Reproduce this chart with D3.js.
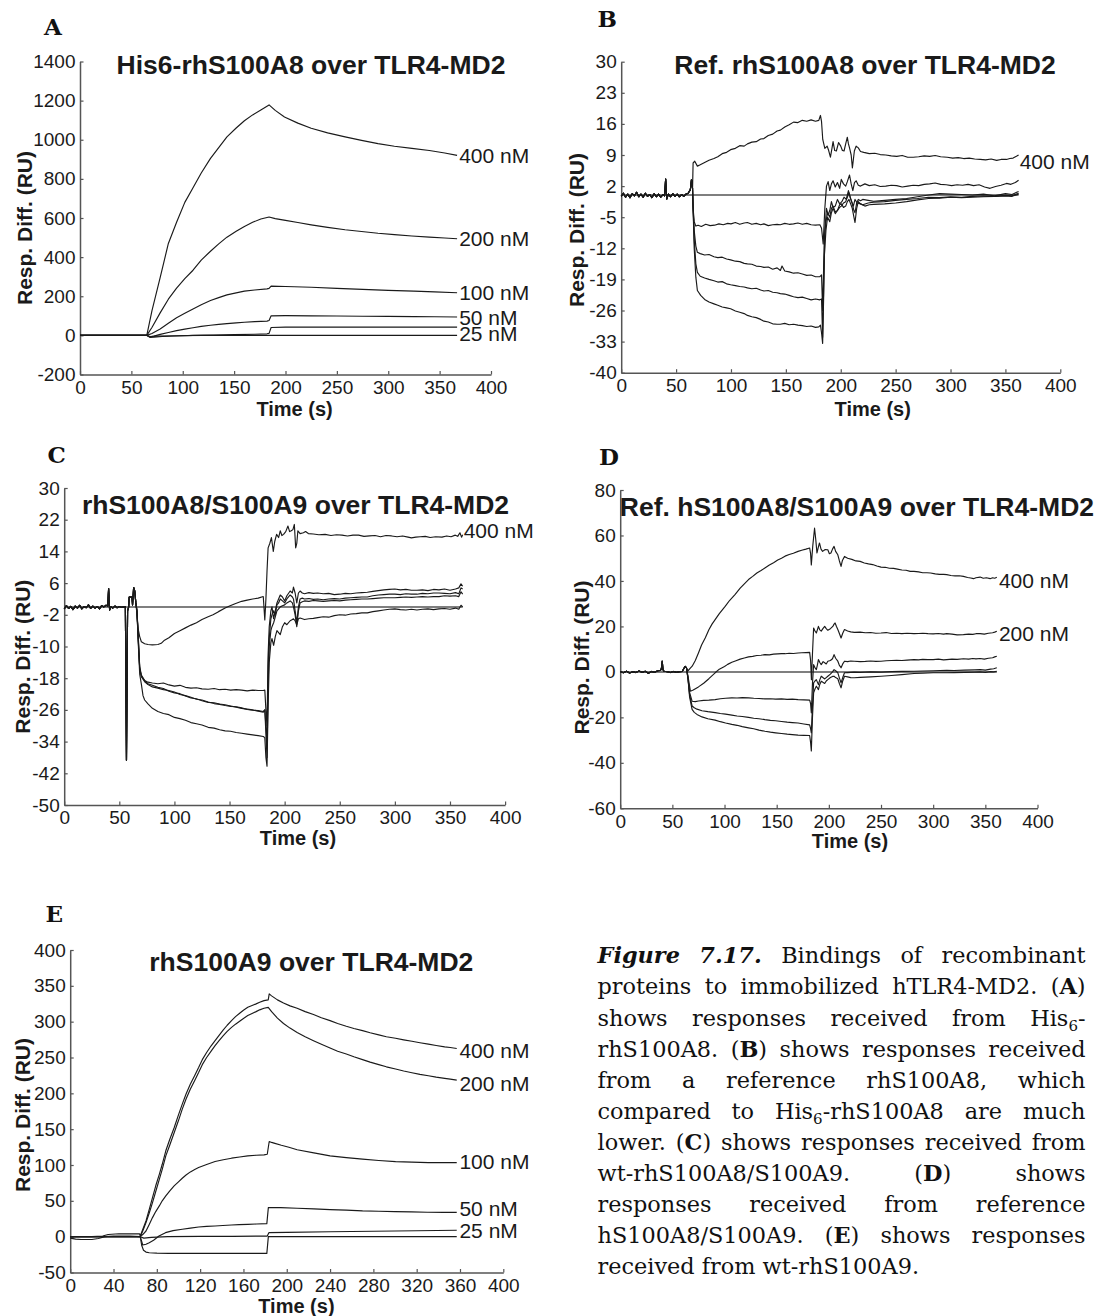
<!DOCTYPE html>
<html><head><meta charset="utf-8">
<script src="https://cdn.jsdelivr.net/npm/d3@7"></script>
<style>body{margin:0;background:#fff}svg{display:block}</style>
</head><body>
<script>
// ---------------- DATA ----------------
const xTicks50 = [0,50,100,150,200,250,300,350,400];
const xTicks40 = [0,40,80,120,160,200,240,280,320,360,400];
const yTicksA = [-200,0,200,400,600,800,1000,1200,1400];
const yTicksB = [30,23,16,9,2,-5,-12,-19,-26,-33,-40];
const yTicksC = [30,22,14,6,-2,-10,-18,-26,-34,-42,-50];
const yTicksD = [80,60,40,20,0,-20,-40,-60];
const yTicksE = [-50,0,50,100,150,200,250,300,350,400];

// Panel A (His6-rhS100A8)
const A_400 = [[0,0],[20,0],[40,0],[65,0],[70,125],[78,295],[86,470],[94,578],[102,680],[110,755],[118,830],[127,905],[135,960],[143,1015],[152,1060],[160,1097],[168,1127],[176,1152],[184,1178],[190,1150],[199,1116],[212,1085],[225,1059],[241,1035],[258,1015],[274,997],[290,980],[306,967],[323,956],[340,945],[355,932],[367,920]];
const A_200 = [[0,0],[65,0],[70,40],[78,115],[86,185],[94,242],[102,290],[110,333],[118,385],[127,430],[135,468],[143,502],[152,532],[160,557],[168,578],[176,595],[184,605],[190,597],[200,588],[212,577],[225,565],[241,552],[258,540],[274,531],[290,522],[306,515],[323,508],[340,502],[355,498],[367,494]];
const A_100 = [[0,0],[65,0],[70,10],[78,33],[86,62],[94,90],[102,113],[110,135],[118,157],[127,178],[135,193],[143,207],[152,217],[160,226],[170,232],[182,238],[184,240],[186,252],[200,250],[225,246],[250,240],[275,235],[300,230],[325,226],[345,222],[367,218]];
const A_50 = [[0,0],[65,0],[68,-8],[72,-4],[78,5],[86,15],[94,24],[102,32],[110,39],[118,46],[127,52],[135,56],[143,60],[152,64],[160,67],[170,70],[182,73],[184,76],[186,100],[200,101],[225,100],[250,99],[275,98],[300,97],[325,96],[345,95],[367,94]];
const A_25 = [[0,0],[65,0],[68,-10],[72,-9],[80,-6],[95,-3],[110,0],[130,2],[150,4],[170,6],[182,8],[184,10],[186,40],[200,42],[250,42],[300,42],[367,42]];
const A_0 = [[0,0],[65,0],[68,-6],[75,-4],[90,-2],[120,0],[367,0]];
const A_labels = ["400 nM","200 nM","100 nM","50 nM","25 nM"];
const A_labelVals = [920,494,218,93,8];

// Panel B (Ref. rhS100A8)
const B_base = [[0,-0.3],[2,0.4],[4,-0.5],[6,0.2],[8,-0.6],[10,0.3],[12,-0.2],[14,0.6],[16,-0.4],[18,0.2],[20,-0.5],[22,0.4],[24,-0.3],[26,0.1],[28,-0.6],[30,0.3],[32,-0.4],[34,0.2],[36,-0.5],[38,0.1],[39.5,-0.2],[40.5,3.6],[41.5,-0.9],[43,0.2],[45,-0.4],[47,0.3],[49,-0.3],[51,0.2],[53,-0.4],[55,0.1],[57,-0.3],[59,0.2],[61,0.4],[63,1.2],[64,3.4],[65,1.5]];
const B_400 = [[65.5,7.2],[67,7.6],[69.4,6.5],[72,6.8],[76,7.3],[80,7.8],[84.5,8.2],[88,8.6],[92,9.3],[96,9.6],[99.7,10.2],[104,10.5],[108,11.1],[112,11.0],[115,11.5],[119,11.9],[123,12.0],[127,12.6],[130,12.7],[134,13.4],[138,13.7],[142,14.4],[145,14.6],[149,15.3],[153,15.8],[157,16.4],[161,16.3],[165,16.8],[169,16.6],[173,16.9],[177,16.6],[180,16.8],[181.5,17.9],[182.5,16.5],[183.6,12.5],[185.5,10.5],[187.6,11],[189,10],[190.6,8.5],[192,10.5],[193,12],[194.5,10],[196,9.9],[198,11.8],[200,11],[201.5,10],[203,9.9],[204.5,11.5],[206,13],[207,11.5],[208,10.6],[209.5,9],[210.6,6.1],[211.5,8],[212.4,9.9],[214,11],[216,10.6],[218,9.8],[221,9.6],[226,9.3],[231,9.4],[236,9.1],[241,9.0],[246,8.8],[251,8.7],[256,8.9],[261,8.5],[266,8.5],[271,8.6],[276,8.8],[281,8.7],[286,8.9],[291,8.6],[297,8.5],[302,8.3],[307,8.4],[312,8.2],[317,8.3],[322,8.1],[327,8.0],[332,7.9],[337,8.1],[342,7.8],[346,8.0],[351,8.0],[354,8.2],[357,8.3],[360,8.7],[362,9.0]];
const B_n1 = [[65.5,-3],[66.5,-6],[68,-7],[70,-6.8],[73,-7.1],[77,-6.6],[81,-6.9],[85,-6.8],[89,-6.5],[93,-6.7],[97,-6.4],[100,-6.5],[104,-6.2],[108,-6.6],[112,-6.3],[115,-6.2],[119,-6.6],[123,-6.4],[127,-6.7],[130,-6.5],[134,-6.9],[138,-6.7],[142,-6.6],[145,-6.7],[149,-6.4],[153,-6.6],[157,-6.5],[161,-6.3],[165,-6.6],[169,-6.4],[173,-6.7],[177,-6.8],[181,-6.7],[182.5,-7.5],[184,-11],[185.5,-3],[187,2],[188.5,3],[190,1],[191.5,2.5],[193,3.2],[195,1.8],[197,2.8],[199,1.5],[200.5,3.5],[202.5,2.5],[204.5,2],[206,3],[208,4.5],[209.5,2.5],[211,1],[212.5,2.8],[214,3.2],[216,2.2],[218,2],[222,2.5],[226,2.1],[231,2.3],[236,1.9],[241,2.0],[246,2.2],[251,2.1],[256,1.8],[261,2.0],[266,2.2],[271,2.1],[276,2.4],[281,2.5],[286,2.7],[291,2.4],[296,2.3],[301,2.1],[306,2.3],[311,2.2],[316,2.4],[321,2.1],[326,2.3],[331,1.8],[336,1.5],[341,1.9],[346,2.2],[351,2.6],[355,2.4],[359,2.8],[362,3.3]];
const B_n2 = [[65.5,-3],[66.5,-8],[68,-11.5],[69.4,-12.9],[72,-13.2],[76,-13.5],[80,-13.4],[84.5,-13.9],[88,-14.1],[92,-14.0],[96,-14.4],[99.7,-14.6],[104,-14.9],[108,-15.0],[112,-15.4],[115,-15.5],[119,-15.6],[123,-16.0],[127,-16.1],[130,-16.3],[134,-16.2],[138,-16.7],[142,-16.4],[145,-17.0],[146.5,-16.0],[149,-17.1],[153,-17.3],[157,-17.6],[161,-17.5],[165,-17.8],[169,-18.1],[173,-18.0],[177,-18.4],[181,-18.4],[182.5,-18],[183.5,-26],[185,-10],[186.5,-6],[188,-4],[190,-5],[191.5,-3],[193,-2.5],[195,-3.8],[197,-3.5],[199,-2.2],[200.5,-2],[202.5,-2.8],[204.5,-2.5],[206,-1.5],[207.5,-1],[209,-2],[210.5,-3],[212,-5],[213,-6.2],[214.5,-3],[216,-1.5],[218,-2],[220,-2.2],[225,-1.8],[230,-1.6],[240,-1.5],[250,-1.2],[260,-1.0],[270,-0.8],[280,-0.5],[290,-0.6],[300,-0.4],[310,-0.5],[320,-0.3],[330,-0.2],[340,-0.3],[350,-0.1],[356,-0.2],[362,0.4]];
const B_n3 = [[65.5,-3],[66.5,-10],[68,-15.5],[69.4,-17.4],[72,-18.3],[76,-18.7],[80,-19.0],[84.5,-19.3],[88,-19.6],[92,-19.5],[96,-20.0],[99.7,-20.2],[104,-20.4],[108,-20.6],[112,-20.7],[115,-20.9],[119,-21.1],[123,-21.0],[127,-21.4],[130,-21.6],[134,-21.5],[138,-21.9],[142,-22.0],[145,-22.2],[149,-22.3],[153,-22.6],[157,-22.9],[161,-23.1],[165,-23.0],[169,-23.3],[173,-23.6],[177,-23.4],[181,-23.6],[182.5,-23.4],[183.5,-32],[185,-14],[186.5,-8],[188,-5],[190,-6],[191.5,-4],[193,-3],[195,-4.2],[197,-3.5],[199,-2.8],[200.5,-2.5],[202.5,-1.8],[204.5,-1.5],[206,-0.5],[207.5,0.5],[209,-0.8],[210.5,-2],[212,-3.5],[213,-4],[214.5,-1.8],[216,-1],[218,-1.3],[220,-1],[225,-1.2],[230,-1.4],[240,-1.2],[250,-1],[260,-0.8],[270,-0.4],[280,0],[290,0.3],[300,0.2],[310,0.1],[320,0],[330,0.2],[340,-0.2],[350,0.3],[356,0.1],[362,0.8]];
const B_n4 = [[65.5,-3],[66.5,-12],[68,-18.5],[69.4,-21.5],[72.4,-22.6],[76,-23.5],[80,-24.1],[84.5,-24.5],[88,-24.8],[92,-25.2],[96,-25.4],[99.7,-25.6],[104,-26.1],[108,-26.4],[112,-26.7],[115,-27.1],[119,-27.4],[123,-27.6],[127,-28.0],[130,-28.4],[134,-28.6],[138,-29.0],[142,-29.1],[145,-29.1],[149,-28.9],[153,-29.2],[157,-29.1],[161,-29.3],[165,-29.4],[169,-29.6],[173,-29.5],[177,-29.8],[180,-29.7],[181.5,-29.3],[182.5,-31],[183.5,-33.4],[184.5,-22],[185.5,-8],[187,-3],[188.5,-4.5],[190,-3.5],[191.5,-1.5],[193,-2.8],[195,-2.5],[197,-1],[199,-2],[201,-1.5],[203,-0.5],[205,-1],[207,1],[208.5,-0.5],[210,-1.5],[211.5,-2.5],[213,-1],[215,-1.8],[218,-2],[222,-2.5],[226,-2.2],[230,-2.1],[240,-2],[250,-1.8],[260,-1.5],[270,-1.1],[280,-0.8],[290,-0.7],[300,-0.5],[310,-0.6],[320,-0.5],[330,-0.4],[340,-0.3],[350,-0.2],[356,-0.3],[362,0.2]];
const B_labels = ["400 nM"];
const B_labelVals = [7.5];

// Panel C (rhS100A8/S100A9)
const C_base = [[0,-0.5],[2,0.3],[4,-0.4],[6,0.1],[8,-0.7],[10,0.2],[12,-0.3],[14,0.4],[16,-0.5],[18,0.1],[20,-0.2],[22,0.5],[24,-0.4],[26,0.2],[28,-0.3],[30,0.1],[32,-0.5],[34,0.3],[36,0.0],[38,0.4],[39.5,0.2],[40.3,4.6],[41.2,-0.8],[42.5,0.1],[44,-0.3],[46,0.2],[48,-0.2],[50,0.1],[52,-0.1],[54,0.0],[55.5,0.0],[56.5,-38.7],[57.5,-1],[58.5,0],[59,2.5],[61.5,2.5],[62,0.5],[63,4.9],[64,4],[65,1]];
const C_400 = [[66,-2],[67,-5.4],[68.5,-7.5],[70,-8.8],[73,-9.3],[76,-9.5],[80,-9.6],[85,-9.5],[88,-9.2],[91,-8.4],[95,-7.8],[100,-6.7],[105,-6.0],[110,-5.3],[115,-4.6],[120,-4.0],[125,-3.2],[130.6,-2.5],[135,-2.0],[140,-1.2],[146,-0.3],[150,0.2],[155,0.8],[161,1.4],[166,1.7],[171,2.0],[176,2.2],[180.6,2.6],[182,-3.3],[183,2],[184,9],[185,14.9],[186.5,16],[188,17.5],[189.7,14],[191,16.5],[192.7,18.3],[194.5,17.5],[196,19.2],[197.5,18],[199,18.3],[201,19],[203,20.4],[204.5,19],[206,19.2],[207.5,19.5],[208.8,20.8],[210,14.9],[211,16],[212,19.2],[214,18.5],[217,18.7],[219,19],[221.5,18.5],[226,18.4],[231,18.2],[236.7,18.3],[242,18.0],[247,18.2],[252,18.1],[257,17.9],[262,18.1],[267,18.1],[272,17.8],[277,17.9],[282,18.0],[287,17.7],[292,18.0],[297,17.9],[302,17.7],[307,17.9],[312,17.6],[315,17.4],[319,17.6],[323,17.7],[327.6,17.8],[332,17.5],[337,17.7],[342.7,17.6],[347,17.9],[351,17.7],[354.8,18.1],[357,17.8],[359,18.7],[360.5,17.6],[361.5,18.2]];
const C_a = [[66,-1],[67,-6],[68.5,-15.6],[70,-17.5],[73,-18.6],[76,-19.0],[80,-19.2],[85,-19.4],[90,-19.2],[95,-19.7],[100,-20.0],[105,-19.8],[110,-20.3],[115,-20.5],[120,-20.4],[125,-20.7],[130.6,-20.8],[136,-20.6],[141,-20.9],[146,-20.8],[151,-21.0],[156,-20.9],[161,-21.0],[166,-21.2],[171,-21.0],[176,-21.1],[180.6,-21.1],[182,-21],[183,-26],[184,-30],[185,-12],[186,-5],[187.5,-1],[188.5,0],[190,-3],[191.5,-1],[193,1],[194.5,2],[196,3],[198,2.5],[200,1.5],[202,2.8],[205,4],[207,3.5],[208,5],[209.5,3.5],[211,1],[212.5,3.5],[214,4],[216,3.5],[218,3.3],[222,3.6],[226,3.4],[230,3.5],[235,3.3],[240,3.4],[245,3.1],[250,3.2],[255,3.4],[260,3.3],[265,3.5],[270,3.6],[275,3.7],[280,3.9],[285,4.1],[290,4.3],[295,4.4],[300,4.5],[305,4.3],[310,4.4],[315,4.2],[320,4.2],[325,4.3],[330,4.1],[335,4.4],[340,4.3],[345,4.5],[350,4.2],[355,4.5],[358,4.8],[360,5.8],[361.5,5.2]];
const C_b = [[66,-1],[67,-7],[68.5,-15],[70,-17.2],[73,-18.6],[76,-19.4],[80,-19.8],[85,-20.3],[90,-20.6],[95,-21.3],[100,-21.7],[105,-21.9],[110,-22.5],[115,-23.0],[120,-23.2],[125,-23.7],[130.6,-24.1],[136,-24.2],[141,-24.5],[146,-24.7],[151,-25.0],[156,-25.3],[161,-25.6],[166,-25.8],[171,-26.0],[176,-26.3],[180.6,-26.6],[182,-26],[183,-30],[184,-35],[185,-15],[186,-8],[187.5,-3],[188.5,-2],[190,-1],[191.5,-2],[193,0.5],[194.5,1],[196,2],[198,1.5],[200,1],[202,2],[205,3],[207,2.5],[208,2],[209.5,-1],[211,-4],[212.5,0],[214,2],[216,2.2],[218,2],[222,2.1],[226,1.9],[230,2],[235,1.8],[240,2],[245,2.1],[250,2],[255,2.2],[260,2.3],[265,2.4],[270,2.5],[275,2.5],[280,2.8],[285,3.0],[290,3.1],[295,3.2],[300,3.2],[305,3.1],[310,3.3],[315,3.2],[320,3.2],[325,3.4],[330,3.3],[335,3.5],[340,3.5],[345,3.4],[350,3.3],[355,3.6],[358,3.3],[360,4.8],[361.5,4.5]];
const C_c = [[66,-1],[67,-7.5],[68.5,-15.5],[70,-17.6],[73,-18.9],[76,-19.6],[80,-20.2],[85,-20.5],[90,-20.9],[95,-21.1],[100,-21.5],[105,-22.1],[110,-22.4],[115,-22.8],[120,-23.3],[125,-23.5],[130.6,-24.0],[136,-24.4],[141,-24.6],[146,-24.9],[151,-25.1],[156,-25.2],[161,-25.5],[166,-25.9],[171,-26.1],[176,-26.2],[180.6,-26.4],[182,-26],[183,-32],[184,-38],[185,-20],[186,-10],[187.5,-6],[188.5,-5],[190,-4],[191.5,-2.5],[193,-1],[194.5,-0.5],[196,0],[198,0.3],[200,0.5],[202,1],[205,1.5],[207,1],[208,0],[209.5,-2],[211,-5],[212.5,-1],[214,1],[216,1.3],[218,1.5],[222,1.4],[226,1.6],[230,1.5],[235,1.4],[240,1.5],[245,1.6],[250,1.5],[255,1.7],[260,1.8],[265,1.9],[270,2.0],[275,2.0],[280,2.1],[285,2.2],[290,2.3],[295,2.3],[300,2.3],[305,2.4],[310,2.5],[315,2.4],[320,2.5],[325,2.6],[330,2.5],[335,2.6],[340,2.6],[345,2.8],[350,2.7],[355,2.8],[358,2.6],[360,3.8],[361.5,3.2]];
const C_d = [[66,-1],[67,-8],[68.5,-17],[70,-19.5],[71.5,-22.4],[73,-23.5],[76,-24.5],[80,-25.6],[85,-26.4],[90,-26.9],[95,-27.2],[100,-27.9],[105,-28.2],[110,-28.6],[115,-29.2],[120,-29.5],[125,-29.8],[130.6,-30.4],[136,-30.6],[141,-31.0],[146,-31.3],[151,-31.4],[156,-31.7],[161,-31.9],[166,-32.1],[171,-32.3],[176,-32.5],[180.6,-32.7],[182,-33],[183,-38],[184,-40.2],[185,-25],[186,-14],[187.5,-9],[188.5,-8],[190,-9.7],[191.5,-7.5],[193,-6],[194.5,-6.5],[196,-7],[198,-5],[200,-4],[202,-4.5],[205,-3.5],[207,-3.2],[208,-3],[209.5,-3.5],[211,-4.5],[212.5,-3],[214,-2.8],[216,-3],[218,-3.2],[222,-3],[226,-2.9],[230,-2.7],[235,-2.5],[240,-2.6],[245,-2.2],[250,-2.0],[255,-2.1],[260,-1.8],[265,-1.7],[270,-1.5],[275,-1.5],[280,-1.2],[285,-1.0],[290,-0.8],[295,-0.6],[300,-0.5],[305,-0.7],[310,-0.8],[315,-0.6],[320,-0.8],[325,-0.6],[330,-0.5],[335,-0.7],[340,-0.5],[345,-0.4],[350,-0.6],[355,-0.3],[358,-0.6],[360,0.4],[361.5,0]];
const C_labels = ["400 nM"];
const C_labelVals = [19.4];

// Panel D (Ref. hS100A8/S100A9)
const D_base = [[0,0.2],[3,-0.4],[6,0.3],[9,-0.5],[12,0.1],[15,-0.3],[18,0.4],[21,-0.2],[24,0.3],[27,-0.6],[30,0.2],[33,-0.2],[36,0.5],[38.5,0.6],[39.5,1.5],[40.3,4.7],[41,1.0],[42,0.3],[45,0.1],[48,-0.3],[51,0.2],[54,-0.2],[57,0.1],[59.5,0.2],[61,1.5],[62.3,2.4],[63.5,1.8]];
const D_400 = [[65,0.5],[67,1.5],[69,2.5],[72,5],[75,8.3],[78,11.8],[81.6,15],[85,18.5],[88,21],[91,23],[95,25.6],[100.6,28.8],[105,31.5],[110,34],[115,36.8],[119,38.7],[123,40.6],[127,42],[131,43.5],[135,44.6],[138.7,45.7],[143,47],[147,48],[151,49.2],[154.6,50],[158,50.9],[162,51.6],[166,52.2],[170.5,53],[174,53.5],[178,54],[181.6,54.5],[182.5,52],[183.2,47],[184.5,55],[186.3,63.2],[187.5,58],[188.6,52.3],[190,55],[191,56.7],[192.5,54],[194,53],[196.5,53.8],[199,53.7],[200.5,52],[202,52.3],[203.5,54],[205,55.2],[206.5,53],[208.6,51.5],[210,49],[211.7,46.4],[213,49],[215,50.8],[218,50],[222,49.5],[226,48.8],[230,48.6],[234,47.9],[238,47.5],[242,47.2],[246,46.6],[250,46.1],[254,46.0],[258,45.6],[262,45.5],[265.7,45.2],[270,44.8],[274,44.7],[278,44.2],[281.6,44.2],[286,44.0],[290,43.6],[294,43.6],[297.5,43.5],[302,43.1],[306,42.9],[310,42.9],[313,42.8],[317,42.4],[321,42.2],[325,42.3],[329,42],[333,41.5],[336,41.3],[338.7,41],[341,41.4],[345,41.7],[348,41.2],[351,41.4],[354.6,41],[357,41.4],[359,41.2],[361,41.6]];
const D_200 = [[65,-2],[67.3,-8.5],[70,-8],[75,-6.6],[80,-5],[85,-3],[91,-0.4],[95,1.2],[100,2.4],[103,3.3],[107,4.2],[111,4.9],[115,5.6],[119,6.1],[123,6.6],[127,6.8],[131,7.2],[135,7.3],[138.7,7.6],[143,7.5],[147,7.8],[151,7.9],[154.6,8],[158,8.0],[162,8.2],[166,8.1],[170.5,8.3],[174,8.4],[178,8.5],[181.6,8.6],[182.5,5],[183.3,-3.4],[184.3,8],[185.4,19.3],[186.7,18],[188,17.1],[189,18.5],[190,20],[191.3,18.5],[192.7,17.9],[194.3,19],[196,20],[197.5,19],[199,18.3],[201.5,19],[203.8,20],[205,21],[206,21.5],[207.3,20],[208.6,18.6],[210,17],[211.7,14.9],[213.3,17],[215,18.6],[218,18],[221,17.6],[224.4,17.4],[230,17.5],[235,17.2],[240,17.3],[245,17.0],[250,17.1],[255,17.3],[260,16.9],[265,17.0],[270,16.8],[275,17.0],[281.6,16.8],[286,16.9],[290,17.0],[295,16.8],[300,16.7],[305,16.9],[310,16.6],[313,16.8],[318,16.6],[323,16.3],[329,16.4],[334,16.6],[338,16.5],[341,16.8],[345,16.8],[349,16.6],[353,17.0],[357,17.2],[359,17.5],[361,17.9]];
const D_n3 = [[65,-3],[66.5,-9],[68.9,-12.9],[72,-13.1],[75,-12.8],[80,-12.5],[85,-12.4],[91,-12.2],[96,-11.8],[101,-11.6],[107,-11.4],[112,-11.5],[117,-11.3],[123,-11.4],[128,-11.6],[133,-11.7],[138.7,-11.9],[144,-11.8],[149,-12.0],[154.6,-11.9],[160,-12.1],[165,-12.0],[170.5,-12.2],[176,-12.3],[181.6,-12.4],[182.5,-14],[183.2,-18],[184.3,-5],[185.4,3.2],[186.5,2],[188,1],[189,3],[190,5.4],[191.5,4],[192.7,3.2],[194.5,4.5],[196,4],[197.5,3.5],[199,4.7],[201.5,5],[203.5,5.8],[205,7.6],[206.5,6],[208.6,4.7],[210,3],[211.7,1.8],[213.3,3.5],[215,4.7],[218,4.5],[221,4.8],[224.4,4.7],[230,4.5],[235,4.6],[240,4.8],[245,4.6],[250,4.7],[255,4.9],[260,5.0],[265,5.1],[270,5.0],[275,5.2],[281.6,5.4],[286,5.3],[290,5.5],[295,5.4],[300,5.4],[305,5.6],[310,5.3],[313,5.4],[318,5.6],[323,5.5],[329,5.8],[334,5.6],[338,5.9],[341,5.7],[345,5.9],[349,5.6],[353,6.0],[357,6.2],[359,6.6],[361,6.9]];
const D_n4 = [[65,-3],[66.5,-10],[68.9,-15],[71,-15.8],[73.6,-16.4],[78.4,-17.1],[84,-17.5],[91,-17.9],[96,-18.3],[101,-18.6],[107,-19.0],[112,-19.4],[117,-19.6],[123,-20.0],[128,-20.4],[133,-20.6],[138.7,-21.0],[144,-21.3],[149,-21.5],[154.6,-21.8],[160,-22.1],[165,-22.3],[170.5,-22.5],[176,-22.9],[181.6,-23.3],[182.5,-25],[183.2,-26.8],[184.3,-15],[185.4,-4.8],[186.7,-4],[188,-3.4],[189,-4.5],[190,-5.6],[191.3,-3.5],[192.7,-1.9],[194.3,-2.5],[196,-3.1],[197.5,-2.5],[199,-1.9],[201.5,-1],[203.5,0],[205,1],[206.5,0.5],[208.6,-0.4],[210,-2.5],[211.7,-4.8],[213.3,-2.5],[215,-0.4],[218,-0.3],[221,-0.2],[224.4,-0.1],[230,-0.2],[240,0],[250,-0.1],[260,0.1],[270,0.2],[281.6,0.3],[290,0.4],[300,0.5],[313,0.7],[320,0.6],[330,0.8],[340,0.9],[345,1.0],[350,0.8],[355,1.2],[358,1.4],[361,1.8]];
const D_n5 = [[65,-3],[66.5,-11],[68.9,-16.5],[71,-17.8],[73.6,-18.7],[78.4,-19.8],[84,-20.6],[91,-21.2],[96,-21.9],[101,-22.5],[107,-23.1],[112,-23.5],[117,-24.1],[123,-24.6],[128,-25.0],[133,-25.6],[138.7,-26.1],[144,-26.5],[149,-26.8],[154.6,-27.1],[160,-27.4],[165,-27.6],[170.5,-27.8],[176,-27.9],[181.6,-28],[182.5,-31],[183.2,-34.8],[184.3,-20],[185.4,-9.2],[186.7,-7.5],[188,-6.3],[189,-7],[190,-7.8],[191.3,-5.5],[192.7,-4.1],[194.3,-4.6],[196,-5.1],[197.5,-4],[199,-3.4],[201.5,-2.5],[203.5,-2],[205,-1.9],[206.5,-2.5],[208.6,-3],[210,-5],[211.7,-7],[213.3,-4],[215,-1.9],[218,-2.2],[221,-2.5],[224.4,-2.6],[230,-2.4],[240,-2.2],[250,-1.9],[260,-1.6],[270,-1.2],[281.6,-0.7],[290,-0.6],[300,-0.4],[313,-0.4],[320,-0.3],[330,-0.2],[340,-0.1],[345,0],[350,-0.2],[355,0.1],[358,0],[361,0.3]];
const D_labels = ["400 nM","200 nM"];
const D_labelVals = [40.4,16.7];

// Panel E (rhS100A9)
const E_400 = [[0,0],[10,0],[20,0],[30,1],[35,3],[45,4],[55,4],[64,4],[64.7,1],[67,10],[70,21.9],[73,38],[76,54.5],[79,71],[82.3,87],[85,101],[88.3,119.8],[92,136],[96,152],[100,170],[103.5,185],[107,199],[111,213],[115,225],[118.6,236],[122,247],[126,257],[130,266],[133.8,273.5],[137.5,281],[141.4,288.4],[145,295],[149,301.5],[152.7,307],[156.5,311.7],[160,316],[164,320],[168,322.5],[171.7,324.8],[175,327],[179,329.4],[182.9,330.4],[183.8,338.8],[186,336],[191.4,330.4],[197,326],[203,322],[209.6,318.7],[217,314],[224.7,309.9],[232,305.5],[240,301.5],[247,297.5],[255,293.6],[262,290.5],[270,287.5],[277,284.5],[285,281.5],[292,279],[300.5,276.8],[308,274.6],[315.6,272.6],[323,270.6],[330.8,268.7],[338,266.8],[345.9,264.9],[351,264],[357,262.5]];
const E_200 = [[0,0],[64.7,0],[67,8],[70,19.6],[73,33],[76,47.5],[79,63],[82.3,80],[85,94],[88.3,112.8],[92,128],[96,145],[100,162],[103.5,178],[107,192],[111,206],[115,218],[118.6,229],[122,240],[126,250],[130,258.5],[133.8,266.5],[137.5,273.5],[141.4,280.5],[145,286.5],[149,292],[152.7,296.5],[156.5,300.6],[160,304.5],[164,308.5],[168,311.5],[171.7,314],[175,316.5],[179,318.7],[182.9,320],[186,314],[191.4,305],[197,297.5],[203,291],[209.6,285],[217,279],[224.7,273.5],[232,268.5],[240,263.3],[247,258.8],[255,254.9],[262,251],[270,247],[277,243.5],[285,240],[292,237],[300.5,233.9],[308,231.2],[315.6,228.8],[323,226.5],[330.8,224.6],[338,222.7],[345.9,220.9],[351,219.8],[357,218.5]];
const E_100 = [[0,0],[64.7,0],[67,3],[70,7.9],[73,17],[76,26.6],[79,35],[82.3,42.9],[85,50],[88.3,56.8],[92,64],[96,70.8],[100,76.5],[103.5,81.5],[107,86],[111,90.4],[115,93.8],[118.6,96.5],[126,100.8],[133.8,104.8],[141.4,107.3],[149,109.5],[156.5,111.2],[164,112.8],[171.7,113.6],[179,114.2],[182,115],[183.8,132.8],[186,131.5],[188.3,130.5],[195,127.5],[202,124.8],[209.6,121.2],[225,117],[240,112.8],[255,110.3],[270,108.1],[285,106.3],[300.5,104.8],[315.6,104],[330.8,103.4],[345,103.4],[357,103.4]];
const E_50 = [[0,0],[64.7,0],[67,-11.6],[70,-10.5],[73,-8.4],[77,-5],[82,0.9],[88,5.6],[95,8.5],[103.5,10.3],[111,12],[118.6,13.5],[126,14.3],[133.8,14.9],[141,15.6],[149,16.3],[156,16.8],[164,17.2],[172,17.7],[181.6,18.2],[183,40.5],[194.4,40.5],[209.6,39.6],[225,38.7],[240,37.7],[255,37],[270,35.9],[285,35.4],[300,34.9],[315,34.5],[330,34],[345,34],[357,34]];
const E_25 = [[0,0],[64.7,0],[68,-2],[75,-1],[90,0],[120,0.5],[150,0.5],[182,0.8],[183.5,5.6],[200,6],[240,6.8],[280,7.5],[320,8.2],[357,8.9]];
const E_0 = [[0,-2],[5,-3.5],[10,-4],[20,-4],[26,-2.5],[32,0],[40,1],[55,1],[64.7,0],[66,-12],[67.7,-19],[70,-21.5],[73,-22.4],[80,-23],[91,-23.3],[120,-23.3],[150,-23.3],[181.6,-23.3],[183,0],[357,0]];
const E_labels = ["400 nM","200 nM","100 nM","50 nM","25 nM"];
const E_labelVals = [260.5,214,104.6,39.6,8.4];

const captionLines = [
 "***Figure*** ***7.17.*** Bindings of recombinant",
 "proteins to immobilized hTLR4-MD2. (**A**)",
 "shows responses received from His_6_-",
 "rhS100A8. (**B**) shows responses received",
 "from a reference rhS100A8, which",
 "compared to His_6_-rhS100A8 are much",
 "lower. (**C**) shows responses received from",
 "wt-rhS100A8/S100A9. (**D**) shows",
 "responses received from reference",
 "hS100A8/S100A9. (**E**) shows responses",
 "received from wt-rhS100A9."
];

// ---------------- LAYOUT ----------------
const SANS = "'Liberation Sans', Arial, sans-serif";
const SERIF = "'DejaVu Serif', serif";
const panels = [
 {letter:"A", lx:44, ly:35, title:"His6-rhS100A8 over TLR4-MD2", tx:311, ty:73.5,
  box:{l:80,r:491,t:61.5,b:374.5}, yDomain:[-200,1400], yTicks:yTicksA, xTicks:xTicks50,
  series:[A_400,A_200,A_100,A_50,A_25,A_0], ref:null,
  labels:A_labels, labelVals:A_labelVals, labelT:369,
  timeX:294.6, timeY:416, respX:24, respY:228},
 {letter:"B", lx:597.5, ly:26.7, title:"Ref. rhS100A8 over TLR4-MD2", tx:865, ty:74,
  box:{l:621.2,r:1060.3,t:61.7,b:372.7}, yDomain:[-40,30], yTicks:yTicksB, xTicks:xTicks50,
  series:[B_400,B_n1,B_n2,B_n3,B_n4].map(s=>B_base.concat(s)), ref:362,
  labels:B_labels, labelVals:B_labelVals, labelT:363,
  timeX:872.7, timeY:416, respX:576.3, respY:230},
 {letter:"C", lx:47.4, ly:463.3, title:"rhS100A8/S100A9 over TLR4-MD2", tx:295.5, ty:514.3,
  box:{l:64.2,r:505.1,t:488,b:805}, yDomain:[-50,30], yTicks:yTicksC, xTicks:xTicks50,
  series:[C_400,C_a,C_b,C_c,C_d].map(s=>C_base.concat(s)), ref:361.5,
  labels:C_labels, labelVals:C_labelVals, labelT:362.4,
  timeX:298, timeY:845, respX:22.8, respY:656.7},
 {letter:"D", lx:599, ly:465, title:"Ref. hS100A8/S100A9 over TLR4-MD2", tx:856.9, ty:516,
  box:{l:620.2,r:1037.5,t:490,b:808.3}, yDomain:[-60,80], yTicks:yTicksD, xTicks:xTicks50,
  series:[D_400,D_200,D_n3,D_n4,D_n5].map(s=>D_base.concat(s)), ref:361,
  labels:D_labels, labelVals:D_labelVals, labelT:363,
  timeX:850, timeY:847.7, respX:581.6, respY:657.5},
 {letter:"E", lx:45.6, ly:921.7, title:"rhS100A9 over TLR4-MD2", tx:311.3, ty:971,
  box:{l:70.2,r:503.3,t:950,b:1272.5}, yDomain:[-50,400], yTicks:yTicksE, xTicks:xTicks40,
  series:[E_400,E_200,E_100,E_50,E_25,E_0], ref:null,
  labels:E_labels, labelVals:E_labelVals, labelT:359.5,
  timeX:296.4, timeY:1313, respX:22.8, respY:1115}
];

const svg = d3.select("body").append("svg").attr("width",1102).attr("height",1316)
  .style("background","#fff");

function drawPanel(p){
  const g = svg.append("g");
  const x = d3.scaleLinear().domain([0,400]).range([p.box.l,p.box.r]);
  const y = d3.scaleLinear().domain(p.yDomain).range([p.box.b,p.box.t]);

  const ax = g.append("g").attr("transform",`translate(0,${p.box.b})`)
    .call(d3.axisBottom(x).tickValues(p.xTicks).tickFormat(d=>String(d))
      .tickSizeInner(-3.5).tickSizeOuter(0).tickPadding(6));
  const ay = g.append("g").attr("transform",`translate(${p.box.l},0)`)
    .call(d3.axisLeft(y).tickValues(p.yTicks).tickFormat(d=>String(d))
      .tickSizeInner(-3.5).tickSizeOuter(0).tickPadding(4.5));
  [ax,ay].forEach(a=>{
    a.attr("font-family",SANS).attr("font-size",19).attr("color","#555");
    a.select(".domain").attr("stroke-width",1.5);
    a.selectAll(".tick line").attr("stroke-width",1.2);
    a.selectAll("text").attr("fill","#1a1a1a");
  });

  if(p.ref!==null){
    g.append("line").attr("x1",x(0)).attr("x2",x(p.ref)).attr("y1",y(0)).attr("y2",y(0))
      .attr("stroke","#555").attr("stroke-width",1.5);
  }
  const line = d3.line().x(d=>x(d[0])).y(d=>y(d[1]));
  g.selectAll("path.curve").data(p.series).join("path").attr("class","curve")
    .attr("d",line).attr("fill","none").attr("stroke","#1a1a1a")
    .attr("stroke-width",1.15).attr("stroke-linejoin","round");

  g.selectAll("text.lab").data(p.labels).join("text").attr("class","lab")
    .attr("x",x(p.labelT)).attr("y",(d,i)=>y(p.labelVals[i])).attr("dy","0.36em")
    .attr("font-family",SANS).attr("font-size",21).attr("fill","#1a1a1a").text(d=>d);

  g.append("text").attr("x",p.tx).attr("y",p.ty).attr("text-anchor","middle")
    .attr("font-family",SANS).attr("font-weight","bold").attr("font-size",26.5)
    .attr("fill","#1a1a1a").text(p.title);
  g.append("text").attr("x",p.timeX).attr("y",p.timeY).attr("text-anchor","middle")
    .attr("font-family",SANS).attr("font-weight","bold").attr("font-size",20)
    .attr("fill","#1a1a1a").text("Time (s)");
  g.append("text").attr("transform",`translate(${p.respX},${p.respY}) rotate(-90)`)
    .attr("text-anchor","middle").attr("dy","0.36em")
    .attr("font-family",SANS).attr("font-weight","bold").attr("font-size",21)
    .attr("fill","#1a1a1a").text("Resp. Diff. (RU)");
  g.append("text").attr("x",p.lx).attr("y",p.ly)
    .attr("font-family",SERIF).attr("font-weight","bold").attr("font-size",23)
    .attr("fill","#111").text(p.letter);
}
panels.forEach(drawPanel);

// ---------------- CAPTION ----------------
const cap = {left:597.5, right:1085.5, y0:963.3, dy:31.1, size:22.4};
const capG = svg.append("g").attr("font-family",SERIF).attr("font-size",cap.size).attr("fill","#111");
function parseWord(w){
  const segs=[]; const re=/(\*\*\*[^*]+\*\*\*|\*\*[^*]+\*\*|_[^_]+_|[^*_]+)/g; let m;
  while((m=re.exec(w))){
    const s=m[0];
    if(s.startsWith("***")) segs.push({t:s.slice(3,-3),st:"bi"});
    else if(s.startsWith("**")) segs.push({t:s.slice(2,-2),st:"b"});
    else if(s.startsWith("_")) segs.push({t:s.slice(1,-1),st:"sub"});
    else segs.push({t:s,st:""});
  }
  return segs;
}
const spaceW = (()=>{const t=capG.append("text").text("a a");const w1=t.node().getComputedTextLength();t.text("aa");const w2=t.node().getComputedTextLength();t.remove();return w1-w2;})();
captionLines.forEach((ln,i)=>{
  const yy = cap.y0 + i*cap.dy;
  const words = ln.split(" ");
  const els = words.map(w=>{
    const t = capG.append("text").attr("y",yy);
    let prevSub=false;
    parseWord(w).forEach(s=>{
      const ts=t.append("tspan").text(s.t);
      if(s.st==="b"||s.st==="bi") ts.attr("font-weight","bold");
      if(s.st==="bi") ts.attr("font-style","italic");
      if(s.st==="sub"){ts.attr("font-size",15).attr("dy",5);prevSub=true;}
      else if(prevSub){ts.attr("dy",-5);prevSub=false;}
    });
    return {t, w:t.node().getComputedTextLength()};
  });
  const total = d3.sum(els,e=>e.w);
  const last = i===captionLines.length-1;
  const gap = (last||els.length<2) ? spaceW : (cap.right-cap.left-total)/(els.length-1);
  let xx = cap.left;
  els.forEach(e=>{e.t.attr("x",xx); xx += e.w + gap;});
});
</script>
</body></html>
